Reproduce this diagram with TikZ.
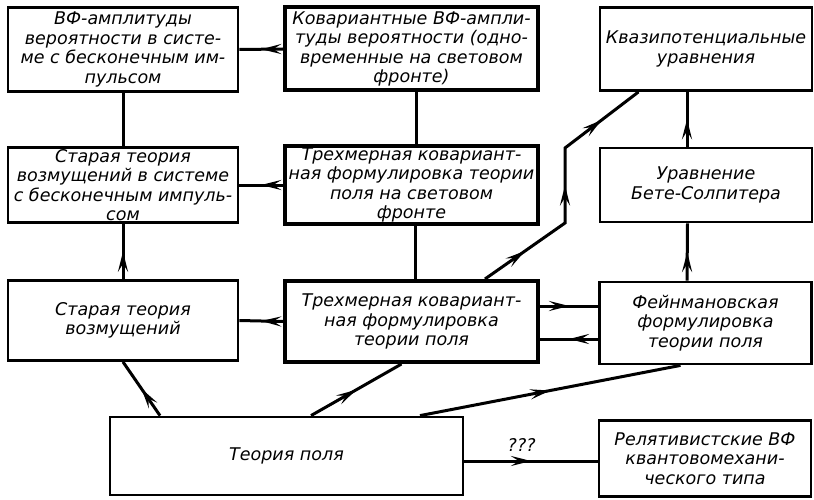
\documentclass[tikz,border=0pt]{standalone}
\usepackage{fontspec}
\newfontfamily\rotulo{DejaVu Sans}
\usetikzlibrary{arrows.meta,decorations.markings}

\tikzset{
  caja/.style={draw, line width=2.8pt, inner sep=2pt, align=center,
    font=\rotulo\itshape\fontsize{17.5}{19.5}\selectfont},
  cajagruesa/.style={caja, line width=4pt},
  linea/.style={line width=3pt},
  flecha/.style={linea, postaction={decorate},
    decoration={markings, mark=at position 0.5 with {\arrow{Stealth[length=20pt,width=10pt,inset=8pt]}}}},
}

\begin{document}
\begin{tikzpicture}[x=1pt,y=-1pt]

    \useasboundingbox (0,0) rectangle (814,500);

    % fila superior
    \node[caja, minimum width=230, minimum height=84] (vfampl) at (123,49.5)
        {ВФ-амплитуды\\вероятности в систе-\\ме с бесконечным им-\\пульсом};
    \node[cajagruesa, minimum width=253, minimum height=83] (kovampl) at (411.5,49)
        {Ковариантные ВФ-ампли-\\туды вероятности (одно-\\временные на световом\\фронте)};
    \node[caja, minimum width=212, minimum height=83] (kvazipot) at (706,49)
        {Квазипотенциальные\\уравнения};

    % segunda fila
    \node[caja, minimum width=230, minimum height=74] (starayaimp) at (123,185)
        {Старая теория\\возмущений в системе\\с бесконечным импуль-\\сом};
    \node[cajagruesa, minimum width=253, minimum height=74] (trehsvet) at (411.5,185)
        {Трехмерная ковариант-\\ная формулировка теории\\поля на световом\\фронте};
    \node[caja, minimum width=212, minimum height=74] (bete) at (706,185)
        {Уравнение\\Бете-Солпитера};

    % tercera fila
    \node[caja, minimum width=230, minimum height=80] (staraya) at (123,320.5)
        {Старая теория\\возмущений};
    \node[cajagruesa, minimum width=253, minimum height=81] (trehmer) at (411.5,321.5)
        {Трехмерная ковариант-\\ная формулировка\\теории поля};
    \node[caja, minimum width=212, minimum height=82] (feynman) at (705.5,323)
        {Фейнмановская\\формулировка\\теории поля};

    % fila inferior
    \node[caja, minimum width=353, minimum height=78] (teoriya) at (286.5,456)
        {Теория поля};
    \node[caja, minimum width=212, minimum height=76] (relyativ) at (705,458.5)
        {Релятивистские ВФ\\квантовомехани-\\ческого типа};

    % lineas sin flecha
    \draw[linea] (vfampl.south) -- (starayaimp.north);
    \draw[linea] ([xshift=5]kovampl.south) -- ([xshift=5]trehsvet.north);
    \draw[linea] ([xshift=3.5]trehsvet.south) -- ([xshift=3.5]trehmer.north);

    % flechas horizontales
    \draw[flecha] (kovampl.west) -- (vfampl.east);
    \draw[flecha] (trehsvet.west) -- (starayaimp.east);
    \draw[flecha] (trehmer.west) -- (staraya.east);
    \draw[flecha] ([yshift=15.5]trehmer.east) -- ([yshift=15.5]trehmer.east -| feynman.west);
    \draw[flecha] ([yshift=-16]feynman.west) -- ([yshift=-16]feynman.west -| trehmer.east);
    \draw[flecha] ([yshift=-2.5]relyativ.west -| teoriya.east) -- node[pos=0.43, above=5pt, font=\rotulo\itshape\fontsize{17.5}{19.5}\selectfont] {???} ([yshift=-2.5]relyativ.west);

    % flechas verticales
    \draw[flecha] (staraya.north) -- (starayaimp.south);
    \draw[flecha] ([xshift=-19]bete.north) -- ([xshift=-19]kvazipot.south);
    \draw[flecha] ([xshift=-18.5]feynman.north) -- ([xshift=-18.5]bete.south);

    % desde teoria de campo
    \draw[flecha] ([xshift=-126.5]teoriya.north) -- (staraya.south);
    \draw[flecha] ([xshift=24.5]teoriya.north) -- ([xshift=-10]trehmer.south);
    \draw[flecha] ([xshift=133.5]teoriya.north) -- ([xshift=-25]feynman.south);

    % camino a cuasipotencial
    \coordinate (trehmerarr) at ([xshift=73.5]trehmer.north);
    \coordinate (kvazipotab) at ([xshift=-67.5]kvazipot.south);
    \coordinate (codo1) at (565,223);
    \coordinate (codo2) at (565,148);
    \draw[linea] (trehmerarr) -- (codo1) -- (codo2) -- (kvazipotab);
    \path[flecha] (trehmerarr) -- (codo1);
    \path[flecha] (codo1) -- (codo2);
    \path[flecha] (codo2) -- (kvazipotab);

\end{tikzpicture}
\end{document}
